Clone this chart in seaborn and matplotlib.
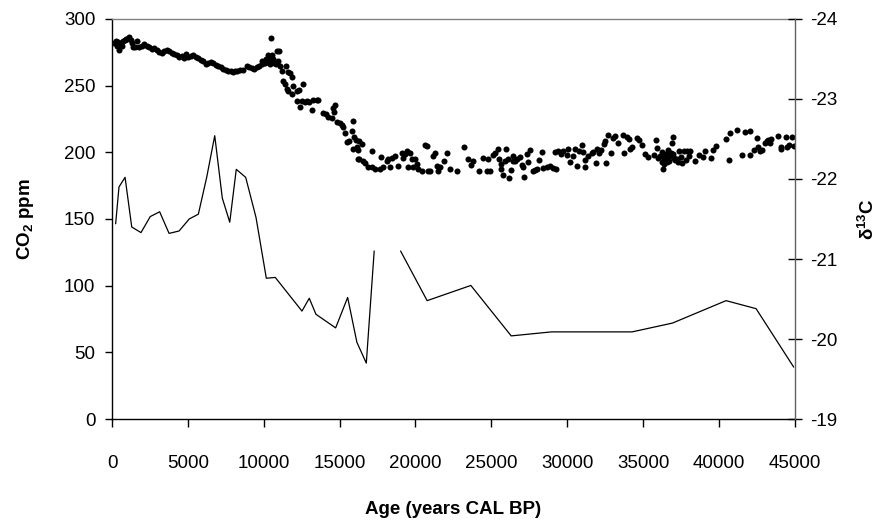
import matplotlib
matplotlib.use('Agg')  # headless
import matplotlib.pyplot as plt
import numpy as np
import pandas as pd
import seaborn as sns

sns.set_theme(style="white")
plt.rcParams['font.family'] = ['Liberation Sans', 'DejaVu Sans']
plt.rcParams['mathtext.fontset'] = 'custom'
plt.rcParams['mathtext.rm'] = 'Liberation Sans'
plt.rcParams['mathtext.bf'] = 'Liberation Sans:bold'
plt.rcParams['axes.unicode_minus'] = False
for key in ['text.color', 'axes.labelcolor', 'xtick.color', 'ytick.color']:
    plt.rcParams[key] = 'black'

# CO2 record (age in years CAL BP, ppm)
co2_age_holocene = [
    150, 240, 350, 420, 480, 570, 650, 700, 860, 930, 1010, 1140, 1230, 1300, 1360,
    1520, 1630, 1800, 1950, 2130, 2280, 2460, 2610, 2770, 2940,
    3120, 3270, 3430, 3600, 3780, 3930, 4090, 4260, 4440, 4590,
    4740, 4880, 5030, 5180, 5360, 5530, 5690, 5840, 6020, 6190,
    6350, 6500, 6680, 6850, 7010, 7160, 7340, 7510, 7660, 7820,
    7990, 8100, 8260, 8430, 8650, 8870, 9050, 9200, 9360, 9530,
    9710, 9860, 9900, 9970, 10080, 10150, 10190, 10300, 10350, 10410,
]
co2_ppm_holocene = [
    281.5, 283.0, 279.8, 282.5, 276.6, 281.5, 279.5, 283.0, 284.0, 285.0, 284.8, 286.0, 284.0, 281.5, 279.1,
    279.1, 283.0, 279.1, 279.8, 281.0, 279.8, 278.6, 277.3, 278.1, 276.6,
    274.8, 274.1, 275.6, 276.6, 275.6, 274.1, 273.6, 273.1, 271.6, 272.3,
    270.6, 273.6, 271.6, 272.3, 273.1, 271.6, 270.6, 269.1, 268.1, 266.1,
    266.6, 267.3, 266.6, 265.6, 264.8, 263.6, 262.3, 261.6, 261.1, 260.6,
    259.9, 260.6, 261.1, 261.6, 261.6, 264.8, 263.6, 263.1, 262.3, 263.6,
    264.8, 266.1, 268.5, 267.3, 266.6, 270.0, 268.1, 267.3, 270.5, 266.1,
]

co2_age_deglacial = [
    10450, 10300, 10520, 10590, 10620, 10670, 10800, 10890, 10950, 11020,
    11070, 11180, 11240, 11400, 11460, 11620, 11730, 11840, 11510, 11620,
    11840, 11950, 12210, 12340, 12610, 12170, 12390, 12500, 12720, 12870,
    13000, 13150, 13260, 13480, 13590, 13880, 14100, 14250, 14470, 14580,
    14690, 14630, 14800, 15020, 15130, 15240, 15350, 15500, 15640, 15790,
    15860, 15940, 16080, 16160, 16230, 16290, 16230, 15860, 16450,
]
co2_ppm_deglacial = [
    285.5, 273.1, 273.1, 267.3, 269.5, 266.6, 266.1, 276.1, 268.0, 276.1,
    264.8, 261.1, 253.6, 251.1, 264.8, 259.9, 259.1, 256.1, 247.4, 245.6,
    243.6, 249.9, 246.1, 246.6, 251.1, 238.7, 234.2, 238.2, 237.4, 238.7,
    237.4, 231.7, 239.2, 239.2, 239.2, 229.2, 228.7, 226.7, 225.7, 233.2,
    235.7, 229.9, 222.4, 221.7, 220.7, 219.2, 214.2, 207.5, 208.2, 215.7,
    223.7, 211.2, 209.2, 203.7, 201.7, 208.7, 195.0, 202.5, 206.2,
]

co2_age_glacial = [
    16300, 16520, 16670, 16890, 17110, 17110, 17330, 17660, 17700, 17880,
    18100, 18210, 18320, 18430, 18650, 18870, 19090, 19200, 19310, 19420,
    19530, 19630, 19740, 19850, 19960, 20070, 20180, 20400, 20620, 20780,
    20840, 20950, 21170, 21280, 21390, 21500, 21610, 21880, 22090, 22270,
    22710, 23190, 23480, 23630, 23810, 24200, 24420, 24690, 24910, 24800,
    25080, 25240, 25450, 25520, 25610, 25670, 25780, 25890, 25960, 26110,
    26180, 26270, 26400, 26440, 26550, 26710, 26880, 26990, 27060, 27170,
    27320, 27430, 27580, 27760, 27870, 27980, 28160, 28310, 28420, 28640,
    28860, 29080, 29250, 29190, 29410, 29560, 29740, 29960, 30070, 30180,
    30400, 30500, 30660, 30790,
]
co2_ppm_glacial = [
    195.0, 193.8, 191.8, 189.3, 188.8, 201.2, 187.5, 187.5, 196.3, 188.8,
    193.8, 195.0, 188.8, 195.8, 197.5, 190.0, 199.3, 195.8, 198.8, 200.7,
    188.8, 199.3, 195.0, 189.3, 195.0, 191.3, 187.5, 186.3, 205.7, 205.0,
    185.8, 186.3, 197.5, 199.3, 190.0, 186.3, 188.8, 193.8, 199.3, 187.5,
    186.3, 203.7, 195.0, 190.8, 193.3, 185.8, 195.8, 186.3, 186.3, 195.0,
    198.3, 199.3, 202.5, 195.0, 191.3, 187.5, 183.3, 193.8, 202.5, 195.0,
    180.8, 186.8, 197.5, 193.3, 193.8, 195.0, 196.3, 190.8, 188.8, 181.3,
    198.8, 192.5, 201.7, 186.3, 186.8, 187.5, 194.3, 200.0, 188.3, 188.8,
    190.0, 188.3, 187.5, 200.0, 201.2, 198.8, 201.2, 198.3, 202.5, 192.5,
    197.5, 202.5, 190.0, 201.2,
]

co2_age_old = [
    30950, 31010, 31170, 31170, 31390, 31610, 31720, 31870, 31980, 32110,
    32260, 32420, 32480, 32590, 32700, 32920, 32990, 33140, 33360, 33690,
    33740, 33910, 34090, 34130, 34240, 34570, 34750, 34900, 35120, 35340,
    35710, 35840, 35890, 36000, 36110, 36220, 36280, 36330, 36370, 36500,
    36590, 36660, 36720, 36810, 36880, 36990, 37030, 37100, 37210, 37320,
    37380, 37470, 37600, 37690, 37820, 37910, 38040, 36400, 36450, 36550,
    36750, 36950,
    38080, 38410, 38700, 38920, 39070, 39510, 39580, 39840, 40460, 40680,
    40720, 41200, 41550, 41710, 42080, 42080, 42300, 42520, 42590, 42700,
    42810, 43030, 43140, 43240, 43350, 43460, 43900, 44060, 44120, 44450,
    44500, 44630, 44850, 44940,
]
co2_ppm_old = [
    205.7, 200.0, 194.3, 189.3, 197.5, 199.3, 200.0, 191.8, 202.5, 199.3,
    201.7, 206.2, 208.7, 192.0, 213.2, 199.5, 210.7, 212.5, 206.7, 213.2,
    199.5, 211.7, 210.0, 202.5, 204.2, 210.7, 209.2, 205.7, 198.8, 196.3,
    198.3, 209.2, 203.2, 195.8, 197.5, 192.5, 200.0, 187.5, 191.3, 198.8,
    196.3, 201.7, 193.8, 199.3, 206.7, 211.2, 195.8, 194.3, 195.0, 192.5,
    200.7, 196.3, 191.8, 201.2, 194.3, 201.2, 197.5, 195.0, 197.0, 193.0,
    197.5, 198.5,
    201.2, 193.8, 198.3, 196.8, 200.7, 195.8, 201.7, 205.0, 210.0, 194.3,
    214.2, 216.7, 198.3, 215.0, 215.7, 198.3, 201.7, 210.5, 203.7, 200.7,
    201.7, 206.7, 208.2, 209.2, 206.7, 209.7, 212.5, 204.2, 202.5, 211.7,
    203.7, 205.7, 211.2, 204.7,
]

# delta 13C record; NaN marks the gap in the curve
d13c_age = [
    240, 460, 860, 1300, 1910, 2520, 3140, 3760, 4420, 5090,
    5690, 6240, 6770, 7270, 7760, 8190, 8810, 9490, 10170, 10760,
    12520, 13000, 13440, 14740, 15530, 16140, 16760, 17280, np.nan,
    19020, 20770, 23650, 26310, 28970, 34280, 36940, 40470, 42450, 44930,
]
d13c_val = [
    -21.44, -21.90, -22.02, -21.40, -21.33, -21.53, -21.59, -21.32, -21.35, -21.50,
    -21.56, -22.02, -22.54, -21.76, -21.46, -22.12, -22.02, -21.52, -20.76, -20.77,
    -20.35, -20.51, -20.31, -20.14, -20.52, -19.96, -19.70, -21.10, np.nan,
    -21.10, -20.48, -20.67, -20.04, -20.09, -20.09, -20.20, -20.48, -20.38, -19.65,
]

x_ticks = list(range(0, 45001, 5000))
co2_ticks = [0, 50, 100, 150, 200, 250, 300]
d13c_ticks = [-24, -23, -22, -21, -20, -19]

co2 = pd.DataFrame({
    "age": co2_age_holocene + co2_age_deglacial + co2_age_glacial + co2_age_old,
    "ppm": co2_ppm_holocene + co2_ppm_deglacial + co2_ppm_glacial + co2_ppm_old,
})
d13c = pd.DataFrame({"age": d13c_age, "d13c": d13c_val})
d13c["segment"] = d13c["age"].isna().cumsum()
d13c = d13c.dropna()

fs = 13.5
fig = plt.figure(figsize=(8.89, 5.22), dpi=100)
ax = fig.add_axes([0.126, 0.197, 0.768, 0.767])

sns.scatterplot(data=co2, x="age", y="ppm", ax=ax, color="black", s=19,
                linewidth=0, legend=False)
ax.set_xlim(0, 45000)
ax.set_ylim(0, 300)
ax.set_xticks(x_ticks)
ax.set_yticks(co2_ticks)
ax.set_xticklabels([str(t) for t in x_ticks], fontsize=fs)
ax.set_yticklabels([str(t) for t in co2_ticks], fontsize=fs)
ax.tick_params(axis='x', direction='out', length=6, width=1, pad=20, color='black', bottom=True)
ax.tick_params(axis='y', direction='out', length=5, width=1, pad=7, color='black', left=True)
ax.set_xlabel("Age (years CAL BP)", fontsize=fs, fontweight='bold', labelpad=21)
ax.set_ylabel(r"CO$_\mathbf{2}$ ppm", fontsize=fs, fontweight='bold', labelpad=20)
for side in ['left', 'bottom']:
    ax.spines[side].set_color('black')
    ax.spines[side].set_linewidth(1)
ax.spines['top'].set_color('#808080')
ax.spines['top'].set_linewidth(1)
ax.spines['right'].set_visible(False)

ax2 = ax.twinx()
sns.lineplot(data=d13c, x="age", y="d13c", units="segment", estimator=None,
             ax=ax2, color="black", linewidth=0.9, legend=False)
ax2.set_ylim(-19, -24)
ax2.set_yticks(d13c_ticks)
ax2.set_yticklabels([str(t) for t in d13c_ticks], fontsize=fs)
ax2.tick_params(axis='y', direction='inout', length=10, width=1, pad=6, color='black', right=True)
ax2.set_ylabel(r"δ$^\mathbf{13}$C", fontsize=fs, fontweight='bold', labelpad=14)
for side in ['left', 'bottom', 'top']:
    ax2.spines[side].set_visible(False)
ax2.spines['right'].set_color('#606060')
ax2.spines['right'].set_linewidth(1)
ax2.set_xlim(0, 45000)

fig.savefig("out.png", dpi=100)
